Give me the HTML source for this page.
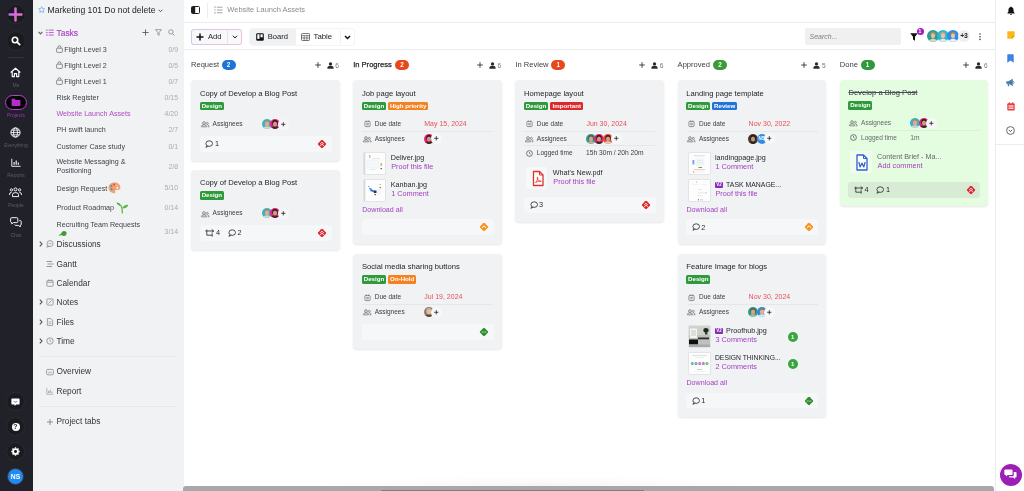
<!DOCTYPE html>
<html>
<head>
<meta charset="utf-8">
<title>Website Launch Assets</title>
<style>
*{box-sizing:border-box;margin:0;padding:0}
html,body{width:1024px;height:491px;overflow:hidden;background:#fff}
body{font-family:"Liberation Sans",sans-serif;color:#26282d;position:relative;-webkit-font-smoothing:antialiased}
.a{position:absolute}
.t{position:absolute;white-space:nowrap;line-height:10px;height:10px}
svg{position:absolute;overflow:visible}
/* nav */
#nav{left:0;top:0;width:33px;height:491px;background:#212229}
.nl{position:absolute;left:0;width:32px;text-align:center;font-size:5px;line-height:6px;color:#5a5c65}
.ring{position:absolute;border-radius:50%;border:1px solid #2a2b32;background:#1a1b21}
/* side */
#side{left:33px;top:0;width:151px;height:491px;background:#f1f2f4}
.si{font-size:7.15px;color:#42444a;left:56.5px}
.sc{font-size:6.9px;color:#a9abb0;right:846px;text-align:right}
.sh{font-size:8.3px;color:#33353a;left:56.5px}
/* top */
#top{left:184px;top:0;width:811px;height:23px;border-bottom:1px solid #ececee;background:#fff}
#bar{left:184px;top:23px;width:811px;height:27px;border-bottom:1px solid #ececee;background:#fff}
#rail{left:995px;top:0;width:29px;height:491px;border-left:1px solid #ececee;background:#fff}
/* columns */
.ch{font-size:7.55px;color:#3c3e44}
.bd{position:absolute;height:10px;border-radius:5px;color:#fff;font-size:6.3px;line-height:10px;text-align:center;font-weight:bold}
.card{position:absolute;width:148.7px;background:#f1f2f4;border-radius:4px;box-shadow:0 1px 2px rgba(0,0,0,.10)}
.ct{font-size:7.62px;color:#232429;left:8.8px}
.done .lb,.done .vv,.done .fnm{color:#65676d}
.done .ct{color:#34363b}
.tag{position:absolute;height:8.3px;border-radius:1.5px;color:#fff;font-size:6.15px;line-height:8.2px;font-weight:bold;text-align:center;top:21.8px;white-space:nowrap}
.g{background:#2f9a3c}.o{background:#f58220}.r{background:#dc2a2a}.b{background:#2372d9}
.lb{font-size:6.5px;color:#3a3c42;left:21.5px}
.dv{font-size:7px;color:#e8505b;left:71.1px}
.vv{font-size:6.7px;color:#3a3c42;left:70.7px}
.hr{position:absolute;left:9px;width:131px;height:1px;background:rgba(0,0,0,.045)}
.ft{position:absolute;left:8.5px;width:132px;height:15.9px;border-radius:3px;background:#f6f7f8}
.fn{font-size:7.3px;color:#26282d}
.fnm{font-size:7.2px;color:#26272c;left:38px}
.lk{font-size:7.3px;color:#a23fc0;left:38px}
.dl{font-size:7.1px;color:#a23fc0;left:9px}
.av{position:absolute;width:10px;height:10px;border-radius:50%;overflow:hidden}
.pl{position:absolute;width:11px;height:11px;border-radius:50%;background:#f7f7f9;color:#222;font-size:8px;line-height:10.5px;text-align:center;font-weight:bold}
.th{position:absolute;left:10px;width:23px;height:23px;background:#fff;border:1px solid #e3e4e7;border-radius:1px;overflow:hidden}
</style>
</head>
<body>
<div id="wrap" style="position:absolute;left:0;top:0;width:1024px;height:491px;will-change:transform">

<!-- ============ NAV ============ -->
<div id="nav" class="a">
  <div class="ring" style="left:5.5px;top:4px;width:20px;height:20px"></div>
  <svg style="left:9px;top:7.5px" width="13" height="13" viewBox="0 0 13 13"><defs><linearGradient id="pg" x1="0" y1="0" x2="1" y2="0"><stop offset="0" stop-color="#c46ae6"/><stop offset="1" stop-color="#ee6fc8"/></linearGradient></defs><path d="M6.5 0.6v11.8M0.6 6.5h11.8" stroke="url(#pg)" stroke-width="2.5" stroke-linecap="round" fill="none"/></svg>
  <div class="ring" style="left:5.5px;top:31px;width:20px;height:20px"></div>
  <svg style="left:10.5px;top:36px" width="10" height="10" viewBox="0 0 10 10"><circle cx="4" cy="4" r="2.7" stroke="#fff" stroke-width="1.6" fill="none"/><path d="M6.1 6.1L8.7 8.7" stroke="#fff" stroke-width="1.7" stroke-linecap="round"/></svg>
  <div class="a" style="left:8px;top:57px;width:16px;height:1px;background:#34353c"></div>
  <!-- home -->
  <svg style="left:10px;top:66.5px" width="11" height="11" viewBox="0 0 11 11"><path d="M1 5.2L5.5 1.2L10 5.2M2.2 4.6V9.6H4.4V6.6H6.6V9.6H8.8V4.6" stroke="#fff" stroke-width="1.15" fill="none" stroke-linejoin="round" stroke-linecap="round"/></svg>
  <div class="nl" style="top:82px">Me</div>
  <!-- projects -->
  <div class="a" style="left:4.5px;top:94.5px;width:22px;height:15px;border-radius:8px;border:1.6px solid #c23fd8;background:#050506"></div>
  <svg style="left:10.7px;top:97.5px" width="10" height="9" viewBox="0 0 10 9"><path d="M0.6 1.6q0-.8.8-.8H3.7l1 1.1H8.6q.8 0 .8.8V7.2q0 .8-.8.8H1.4q-.8 0-.8-.8z" fill="#b22fc9"/></svg>
  <div class="nl" style="top:112px;color:#a22fb8">Projects</div>
  <!-- globe -->
  <svg style="left:10px;top:126.5px" width="11" height="11" viewBox="0 0 11 11"><circle cx="5.5" cy="5.5" r="4.6" stroke="#fff" stroke-width="1" fill="none"/><ellipse cx="5.5" cy="5.5" rx="2" ry="4.6" stroke="#fff" stroke-width=".9" fill="none"/><path d="M1 5.5H10M1.8 3.2H9.2M1.8 7.8H9.2" stroke="#fff" stroke-width=".8"/></svg>
  <div class="nl" style="top:142px">Everything</div>
  <!-- reports -->
  <svg style="left:10.500px;top:157.500px" width="10" height="9" viewBox="0 0 10 9"><path d="M.8 .8V8.300H9.600" stroke="#fff" stroke-width=".9" fill="none"/><path d="M3.100 4V6.800M5.200 2.400V6.800M7.300 4.600V6.800" stroke="#fff" stroke-width="1.100"/></svg>
  <div class="nl" style="top:172px">Reports</div>
  <!-- people -->
  <svg style="left:9px;top:186.5px" width="13" height="11" viewBox="0 0 13 11"><circle cx="6.5" cy="2.4" r="1.5" stroke="#fff" stroke-width=".95" fill="none"/><circle cx="2.4" cy="2.9" r="1.15" stroke="#fff" stroke-width=".9" fill="none"/><circle cx="10.6" cy="2.9" r="1.15" stroke="#fff" stroke-width=".9" fill="none"/><path d="M3.5 9.6V7.6q0-2 3-2t3 2V9.6zM.6 8V7q0-1.5 2-1.6M12.4 8V7q0-1.5-2-1.6" stroke="#fff" stroke-width=".95" fill="none" stroke-linejoin="round"/></svg>
  <div class="nl" style="top:202px">People</div>
  <!-- chat -->
  <svg style="left:9.5px;top:217px" width="12" height="11" viewBox="0 0 12 11"><path d="M1.6 .7H6.8q1 0 1 1V4.6q0 1-1 1H3.4L1.8 7V5.6Q.6 5.5.6 4.6V1.7q0-1 1-1z" stroke="#fff" stroke-width=".95" fill="none" stroke-linejoin="round"/><path d="M9.3 3.6h.9q1 0 1 1V7.4q0 1-1 1V10L8.6 8.4H5.6q-.8 0-1-.8" stroke="#fff" stroke-width=".95" fill="none" stroke-linejoin="round"/></svg>
  <div class="nl" style="top:232px">Chat</div>
  <!-- bottom -->
  <div class="ring" style="left:6px;top:392px;width:19px;height:19px"></div>
  <svg style="left:11px;top:397.5px" width="9" height="9" viewBox="0 0 9 9"><path d="M1 .6H8q.6 0 .6.6V5.8q0 .6-.6.6H5.2L3.6 8V6.4H1q-.6 0-.6-.6V1.2q0-.6.6-.6z" fill="#fff"/><path d="M2.8 3.4q1.7 1.3 3.4 0" stroke="#1f2027" stroke-width=".6" fill="none"/></svg>
  <div class="ring" style="left:6px;top:417px;width:19px;height:19px"></div>
  <div class="a" style="left:11.5px;top:422.5px;width:8px;height:8px;border-radius:50%;background:#fff;color:#1f2027;font-size:7px;line-height:8.4px;text-align:center;font-weight:bold">?</div>
  <div class="ring" style="left:6px;top:442px;width:19px;height:19px"></div>
  <svg style="left:11px;top:447px" width="9" height="9" viewBox="0 0 9 9"><circle cx="4.5" cy="4.5" r="2.4" stroke="#fff" stroke-width="1.9" fill="none"/><path d="M4.5 .3V8.7M.3 4.5H8.7M1.5 1.5L7.5 7.5M7.5 1.5L1.5 7.5" stroke="#fff" stroke-width="1.3" stroke-dasharray="1.3 5.8"/><circle cx="4.5" cy="4.5" r="1.2" fill="#191a20"/></svg>
  <div class="a" style="left:7px;top:468px;width:17px;height:17px;border-radius:50%;background:#1e8af2;border:1px solid #33343c;color:#fff;font-size:6.800px;line-height:15px;text-align:center;font-weight:bold">NS</div>
</div>

<!-- ============ SIDEBAR ============ -->
<div id="side" class="a"></div>
<svg style="left:37.8px;top:6.2px" width="7.400" height="7.400" viewBox="0 0 9 9"><path d="M4.5 .8L5.6 3.2L8.2 3.5L6.3 5.3L6.8 7.9L4.5 6.6L2.2 7.9L2.7 5.3L.8 3.5L3.4 3.2Z" stroke="#7fb0ea" stroke-width="1.100" fill="none" stroke-linejoin="round"/></svg>
<div class="t" style="left:47.5px;top:5px;font-size:8.6px;color:#222328">Marketing 101 Do not delete</div>
<svg style="left:157.5px;top:8.5px" width="5" height="4" viewBox="0 0 5 4"><path d="M.7 .8L2.5 2.7L4.3 .8" stroke="#444" stroke-width=".9" fill="none"/></svg>
<svg style="left:38px;top:31px" width="5" height="4" viewBox="0 0 5 4"><path d="M.6 .8L2.5 2.900L4.400 .8" stroke="#606268" stroke-width="1.150" fill="none"/></svg>
<svg style="left:46.300px;top:29.300px" width="8" height="7.200" viewBox="0 0 9 8"><path d="M.3 1.2H1.7M.3 4H1.7M.3 6.8H1.7" stroke="#b24bc8" stroke-width="1.3"/><path d="M3 1.2H8.7M3 4H8.7M3 6.8H8.7" stroke="#b24bc8" stroke-width="1"/></svg>
<div class="t" style="left:56.600px;top:28px;font-size:8.400px;color:#b04ac6;-webkit-text-stroke:.2px #b04ac6">Tasks</div>
<svg style="left:142px;top:28.8px" width="7" height="7" viewBox="0 0 7 7"><path d="M3.5 .4V6.6M.4 3.5H6.6" stroke="#5a5c62" stroke-width=".9"/></svg>
<svg style="left:154.5px;top:28.8px" width="7" height="7" viewBox="0 0 7 7"><path d="M.5 .6H6.5L4.2 3.4V6.3L2.8 5.6V3.4Z" stroke="#8a8c92" stroke-width=".8" fill="none" stroke-linejoin="round"/></svg>
<svg style="left:167.5px;top:28.8px" width="7" height="7" viewBox="0 0 7 7"><circle cx="2.9" cy="2.9" r="2.2" stroke="#8a8c92" stroke-width=".85" fill="none"/><path d="M4.6 4.6L6.5 6.5" stroke="#8a8c92" stroke-width=".9"/></svg>
<svg style="left:56px;top:45.1px" width="7" height="8" viewBox="0 0 7 8"><rect x=".6" y="3.2" width="5.8" height="4.2" rx=".8" stroke="#6f7177" stroke-width=".8" fill="none"/><path d="M2 3.2V2.2q0-1.5 1.5-1.5T5 2.2V3.2" stroke="#6f7177" stroke-width=".8" fill="none"/></svg>
<div class="t si" style="left:64.3px;top:44.7px">Flight Level 3</div>
<div class="t sc" style="top:45.1px">0/9</div>
<svg style="left:56px;top:61.1px" width="7" height="8" viewBox="0 0 7 8"><rect x=".6" y="3.2" width="5.8" height="4.2" rx=".8" stroke="#6f7177" stroke-width=".8" fill="none"/><path d="M2 3.2V2.2q0-1.5 1.5-1.5T5 2.2V3.2" stroke="#6f7177" stroke-width=".8" fill="none"/></svg>
<div class="t si" style="left:64.3px;top:60.7px">Flight Level 2</div>
<div class="t sc" style="top:61.1px">0/5</div>
<svg style="left:56px;top:77.1px" width="7" height="8" viewBox="0 0 7 8"><rect x=".6" y="3.2" width="5.8" height="4.2" rx=".8" stroke="#6f7177" stroke-width=".8" fill="none"/><path d="M2 3.2V2.2q0-1.5 1.5-1.5T5 2.2V3.2" stroke="#6f7177" stroke-width=".8" fill="none"/></svg>
<div class="t si" style="left:64.3px;top:76.7px">Flight Level 1</div>
<div class="t sc" style="top:77.1px">0/7</div>
<div class="t si" style="top:93.0px">Risk Register</div>
<div class="t sc" style="top:93.4px">0/15</div>
<div class="t si" style="color:#b04ac6;top:109.0px">Website Launch Assets</div>
<div class="t sc" style="top:109.4px">4/20</div>
<div class="t si" style="top:125.0px">PH swift launch</div>
<div class="t sc" style="top:125.4px">2/7</div>
<div class="t si" style="top:142.0px">Customer Case study</div>
<div class="t sc" style="top:141.7px">0/1</div>
<div class="t si" style="top:157px">Website Messaging &amp;</div>
<div class="t si" style="top:166px">Positioning</div>
<div class="t sc" style="top:161.8px">2/8</div>
<div class="t si" style="top:183.7px">Design Request</div>
<div class="t sc" style="top:183.4px">5/10</div>
<svg style="left:107.5px;top:182px" width="13" height="12" viewBox="0 0 13 12"><path d="M6.3 .6C2.8.6.6 2.9.6 5.8c0 2.8 2.2 5.2 5.4 5.4 1.3.1 1.6-.8 1.2-1.6-.4-.9.1-1.7 1.2-1.7h1.8c1.4 0 2.2-1 2.2-2.3C12.400 2.600 9.800.600 6.300.600z" fill="#f0a079"/><circle cx="3.400" cy="4" r="1" fill="#3b8fe0"/><circle cx="6" cy="2.600" r="1" fill="#e8453c"/><circle cx="8.900" cy="3.400" r="1" fill="#f5c542"/><circle cx="3.600" cy="7.200" r="1" fill="#3aa84c"/><circle cx="9.400" cy="5.900" r=".9" fill="#fff"/></svg>
<div class="t si" style="top:202.5px">Product Roadmap</div>
<div class="t sc" style="top:202.900px">0/14</div>
<svg style="left:115.5px;top:200.5px" width="13" height="13" viewBox="0 0 13 13"><path d="M6.300 12.500C6.500 9 6.200 6.500 5 4.600" stroke="#6dbb45" stroke-width="1.300" fill="none"/><path d="M5.400 5C4.300 2.400 2.500 1.400.4 1.500 1.300 3.900 3 5.100 5.400 5z" fill="#4caf50"/><path d="M6.200 7.300C7.300 4.800 9.500 3.500 12.300 3.900 11.400 6.400 9.200 7.600 6.200 7.300z" fill="#55b848"/></svg>
<div class="t si" style="top:220.200px">Recruiting Team Requests</div>
<div class="t sc" style="top:226.500px">3/14</div>
<svg style="left:58px;top:229.500px" width="9" height="7" viewBox="0 0 9 7"><path d="M.3 5.200C2 5 3 4 3.600 2.600 4.400 1 6.400.4 7.800 1.600c1.200 1 1.200 2.900-.200 3.800C6.200 6.400 4.500 6 3.800 4.900 2.800 5.600 1.500 5.800.3 5.200z" fill="#4a9e3f"/><path d="M4 3.500L8 2.200" stroke="#2f7d2c" stroke-width=".5"/></svg>
<svg style="left:38.500px;top:241.4px" width="4" height="6" viewBox="0 0 4 6"><path d="M.8 .6L3 3L.8 5.400" stroke="#4a4c52" stroke-width="1.100" fill="none"/></svg>
<svg style="left:46px;top:240.4px" width="8" height="8" viewBox="0 0 8 8"><circle cx="4" cy="3.600" r="3" stroke="#8a8c92" stroke-width=".8" fill="none"/><path d="M1.700 5.500L.8 7.200L3 6.400" stroke="#8a8c92" stroke-width=".8" fill="none"/><path d="M2.600 3.600H5.400" stroke="#8a8c92" stroke-width=".7"/></svg>
<div class="t sh" style="top:239.2px">Discussions</div>
<svg style="left:46px;top:260.0px" width="8" height="8" viewBox="0 0 8 8"><path d="M.5 1.500H6M1.500 4H7.500M.5 6.500H6" stroke="#8a8c92" stroke-width=".9"/></svg>
<div class="t sh" style="top:258.8px">Gantt</div>
<svg style="left:46px;top:279.0px" width="8" height="8" viewBox="0 0 8 8"><rect x=".9" y="1.400" width="6.200" height="5.900" rx=".8" stroke="#8a8c92" stroke-width=".8" fill="none"/><path d="M.9 3.200H7.100M2.600 .5V2M5.400 .5V2" stroke="#8a8c92" stroke-width=".8"/></svg>
<div class="t sh" style="top:277.8px">Calendar</div>
<svg style="left:38.500px;top:299.3px" width="4" height="6" viewBox="0 0 4 6"><path d="M.8 .6L3 3L.8 5.400" stroke="#4a4c52" stroke-width="1.100" fill="none"/></svg>
<svg style="left:46px;top:298.3px" width="8" height="8" viewBox="0 0 8 8"><rect x=".9" y=".9" width="6.200" height="6.200" rx=".8" stroke="#8a8c92" stroke-width=".8" fill="none"/><path d="M2.500 5.500L5.600 2.400" stroke="#8a8c92" stroke-width=".9"/></svg>
<div class="t sh" style="top:297.1px">Notes</div>
<svg style="left:38.500px;top:318.7px" width="4" height="6" viewBox="0 0 4 6"><path d="M.8 .6L3 3L.8 5.400" stroke="#4a4c52" stroke-width="1.100" fill="none"/></svg>
<svg style="left:46px;top:317.7px" width="8" height="8" viewBox="0 0 8 8"><path d="M1.400 .6H5L6.600 2.200V7.400H1.400Z" stroke="#8a8c92" stroke-width=".8" fill="none" stroke-linejoin="round"/><path d="M2.600 3.800H5.400M2.600 5.400H5.400" stroke="#8a8c92" stroke-width=".6"/></svg>
<div class="t sh" style="top:316.5px">Files</div>
<svg style="left:38.500px;top:338.0px" width="4" height="6" viewBox="0 0 4 6"><path d="M.8 .6L3 3L.8 5.400" stroke="#4a4c52" stroke-width="1.100" fill="none"/></svg>
<svg style="left:46px;top:337.0px" width="8" height="8" viewBox="0 0 8 8"><circle cx="4" cy="4" r="3.200" stroke="#8a8c92" stroke-width=".8" fill="none"/><path d="M4 2.200V4.200L5.200 4.900" stroke="#8a8c92" stroke-width=".7" fill="none"/></svg>
<div class="t sh" style="top:335.8px">Time</div>
<svg style="left:46px;top:367.5px" width="8" height="8" viewBox="0 0 8 8"><rect x=".6" y="1.400" width="6.800" height="5.400" rx="1.200" stroke="#8a8c92" stroke-width=".8" fill="none"/><path d="M2 5.200q2-2.600 4 0" stroke="#8a8c92" stroke-width=".7" fill="none"/></svg>
<div class="t sh" style="top:366.3px">Overview</div>
<svg style="left:46px;top:387.0px" width="8" height="8" viewBox="0 0 8 8"><path d="M.8 .8V7.200H7.500" stroke="#9a9ca2" stroke-width=".7" fill="none"/><path d="M2.500 4V6M4.200 2.800V6M5.900 4.500V6" stroke="#9a9ca2" stroke-width=".9"/></svg>
<div class="t sh" style="top:385.8px">Report</div>
<svg style="left:46px;top:417.5px" width="8" height="8" viewBox="0 0 8 8"><path d="M4 1V7M1 4H7" stroke="#77797f" stroke-width=".8"/></svg>
<div class="t sh" style="top:416.3px">Project tabs</div>
<div class="a" style="left:39px;top:356px;width:138px;height:1px;background:#e7e8eb"></div>
<div class="a" style="left:39px;top:406px;width:138px;height:1px;background:#e7e8eb"></div>

<!-- ============ TOP ============ -->
<div id="top" class="a"></div>
<svg style="left:191px;top:6px" width="9" height="8" viewBox="0 0 9 8"><rect x=".5" y=".5" width="8" height="7" rx="1" stroke="#1d1e22" stroke-width="1" fill="none"/><rect x=".8" y=".8" width="3.400" height="6.400" fill="#1d1e22"/></svg>
<div class="a" style="left:206.500px;top:3px;width:1px;height:15px;background:#ececee"></div>
<svg style="left:214px;top:6px" width="9" height="8" viewBox="0 0 9 8"><path d="M.3 1.200H1.600M.3 4H1.600M.3 6.800H1.600" stroke="#9a9ca1" stroke-width="1.200"/><path d="M2.900 1.200H8.500M2.900 4H8.500M2.900 6.800H8.500" stroke="#9a9ca1" stroke-width=".9"/></svg>
<div class="t" style="left:227.300px;top:5px;font-size:7.500px;color:#8b8d92">Website Launch Assets</div>
<div id="bar" class="a"></div>
<div class="a" style="left:191px;top:28.500px;width:51px;height:16px;border-radius:3px;border:1px solid transparent;background:linear-gradient(#f8f8fb,#f8f8fb) padding-box,linear-gradient(90deg,#cfc9ee,#f2bfd6) border-box"></div>
<div class="a" style="left:226.500px;top:29.500px;width:1px;height:14px;background:#e6e6ea"></div>
<svg style="left:195.500px;top:33px" width="8" height="8" viewBox="0 0 8 8"><path d="M4 .5V7.500M.5 4H7.500" stroke="#111" stroke-width="1.500"/></svg>
<div class="t" style="left:208px;top:31.500px;font-size:7.600px;color:#222">Add</div>
<svg style="left:231.500px;top:34.500px" width="6" height="4" viewBox="0 0 6 4"><path d="M.8 .7L3 3L5.200 .7" stroke="#222" stroke-width="1" fill="none"/></svg>
<div class="a" style="left:250px;top:28.500px;width:104px;height:16px;border-radius:3px;background:#fff;box-shadow:0 0 0 1px #f4f4f6"></div>
<div class="a" style="left:250px;top:28.500px;width:46px;height:16px;border-radius:3px 0 0 3px;background:#f0f1f3"></div>
<svg style="left:256px;top:32.500px" width="8" height="8" viewBox="0 0 8 8"><rect x=".2" y=".2" width="7.600" height="7.600" rx="1.200" fill="#111"/><rect x="1.300" y="1.300" width="2.200" height="4.600" fill="#fff"/><rect x="4.500" y="1.300" width="2.200" height="3" fill="#fff"/></svg>
<div class="t" style="left:267.800px;top:31.500px;font-size:7.600px;color:#222">Board</div>
<svg style="left:301px;top:32.500px" width="9" height="8" viewBox="0 0 9 8"><rect x=".5" y=".5" width="8" height="7" rx=".8" stroke="#555" stroke-width=".8" fill="none"/><path d="M.5 2.600H8.500M.5 5H8.500M3.200 2.600V7.500M5.900 2.600V7.500" stroke="#555" stroke-width=".7"/></svg>
<div class="t" style="left:313.500px;top:31.500px;font-size:7.800px;color:#222">Table</div>
<div class="a" style="left:339.500px;top:29.500px;width:1px;height:14px;background:#f1f1f3"></div>
<svg style="left:344px;top:34.500px" width="7" height="5" viewBox="0 0 7 5"><path d="M1 .9L3.500 3.500L6 .9" stroke="#111" stroke-width="1.400" fill="none"/></svg>
<div class="a" style="left:804.500px;top:28px;width:96px;height:16.500px;border-radius:2px;background:#f0f0f1"></div>
<div class="t" style="left:809.500px;top:31.500px;font-size:7px;font-style:italic;color:#7d7f85">Search...</div>
<svg style="left:909.500px;top:32.500px" width="8" height="8" viewBox="0 0 8 8"><path d="M.2 .3H7.800L5 3.700V7.700L3 6.400V3.700Z" fill="#111"/></svg>
<div class="a" style="left:916.500px;top:28px;width:7px;height:7px;border-radius:50%;background:#a11fc0;color:#fff;font-size:5px;line-height:7px;text-align:center;font-weight:bold">1</div>
<svg style="left:927.0px;top:30.3px" width="12" height="12" viewBox="0 0 12 12"><defs><clipPath id="c15"><circle cx="6" cy="6" r="6"/></clipPath></defs><g clip-path="url(#c15)"><rect width="12" height="12" fill="#2b9e8e"/><ellipse cx="6" cy="13" rx="4.800" ry="4.200" fill="#d8d4cc"/><ellipse cx="6" cy="4.600" rx="2.700" ry="2.900" fill="#a58c70"/><ellipse cx="6" cy="5.800" rx="2" ry="2.600" fill="#e2c0a2"/></g></svg><svg style="left:937.3px;top:30.3px" width="12" height="12" viewBox="0 0 12 12"><defs><clipPath id="c16"><circle cx="6" cy="6" r="6"/></clipPath></defs><g clip-path="url(#c16)"><rect width="12" height="12" fill="#29b8d8"/><ellipse cx="6" cy="13" rx="4.800" ry="4.200" fill="#e9e4dc"/><ellipse cx="6" cy="4.600" rx="2.700" ry="2.900" fill="#bfa184"/><ellipse cx="6" cy="5.800" rx="2" ry="2.600" fill="#e8c5a8"/></g></svg><svg style="left:947.4px;top:30.3px" width="12" height="12" viewBox="0 0 12 12"><defs><clipPath id="c17"><circle cx="6" cy="6" r="6"/></clipPath></defs><g clip-path="url(#c17)"><rect width="12" height="12" fill="#2f8de6"/><ellipse cx="6" cy="13" rx="4.800" ry="4.200" fill="#eef0f3"/><ellipse cx="6" cy="4.600" rx="2.700" ry="2.900" fill="#9c846b"/><ellipse cx="6" cy="5.800" rx="2" ry="2.600" fill="#e7c7ad"/></g></svg>
<div class="a" style="left:958px;top:30.300px;width:12px;height:12px;border-radius:50%;background:#efeff1;color:#222;font-size:6.800px;line-height:12px;text-align:center;font-weight:bold">+3</div>
<svg style="left:979px;top:33px" width="2" height="8" viewBox="0 0 2 8"><circle cx="1" cy="1" r=".8" fill="#444"/><circle cx="1" cy="3.700" r=".8" fill="#444"/><circle cx="1" cy="6.400" r=".8" fill="#444"/></svg>
<div id="rail" class="a"></div>
<svg style="left:1006.500px;top:6px" width="8" height="9" viewBox="0 0 8 9"><path d="M4 .4q.5 0 .5.600Q6.600 1.600 6.600 4V5.800L7.600 7V7.400H.4V7L1.400 5.800V4Q1.400 1.600 3.500 1Q3.500.4 4 .4zM3 7.900H5Q5 8.800 4 8.800T3 7.900z" fill="#111"/></svg>
<svg style="left:1006.500px;top:30.500px" width="8" height="8" viewBox="0 0 8 8"><path d="M.8 .3H7.200q.5 0 .5.500V5L5 7.700H.8q-.5 0-.5-.5V.8q0-.5.500-.5z" fill="#fbb818"/><path d="M5 7.700V5.400q0-.4.400-.4H7.700z" fill="#e09a00"/></svg>
<svg style="left:1007px;top:54px" width="7" height="9" viewBox="0 0 7 9"><path d="M.3 .8q0-.5.500-.5H6.200q.5 0 .5.500V8.700L3.500 6.500L.3 8.700z" fill="#3f7fe8"/></svg>
<svg style="left:1006px;top:77.500px" width="9" height="9" viewBox="0 0 9 9"><path d="M.3 3.200H2.400L6.800 .8V8L2.400 5.800H.3z" fill="#4a7aa8"/><path d="M1.400 5.800L2 8.300H3.300L2.800 5.800" fill="#4a7aa8"/><path d="M7.400 3.200q1.200 1.200 0 2.400" stroke="#4a7aa8" stroke-width=".9" fill="none"/></svg>
<svg style="left:1006.500px;top:101.500px" width="8" height="9" viewBox="0 0 8 9"><rect x=".3" y="1.200" width="7.400" height="7.200" rx="1" fill="#ef3b3b"/><rect x="1.500" y="3.400" width="5" height="1.200" fill="#fff"/><rect x="1.500" y="5.600" width="5" height="1.200" fill="#fff"/><rect x="1.800" y=".2" width="1" height="1.800" fill="#ef3b3b"/><rect x="5.200" y=".2" width="1" height="1.800" fill="#ef3b3b"/></svg>
<svg style="left:1006px;top:125.500px" width="9" height="9" viewBox="0 0 9 9"><circle cx="4.500" cy="4.500" r="3.900" stroke="#444" stroke-width=".8" fill="none"/><path d="M2.800 3.900L4.500 5.600L6.200 3.900" stroke="#444" stroke-width=".9" fill="none"/></svg>
<div class="a" style="left:996px;top:143.500px;width:28px;height:1px;background:#ececee"></div>
<div class="a" style="left:999.500px;top:464px;width:22px;height:22px;border-radius:50%;background:#9b1fb5"></div>
<svg style="left:1004px;top:469px" width="13" height="12" viewBox="0 0 12 11"><path d="M1.200 .4H7q.9 0 .9.900V4.600q0 .9-.9.900H3.400L1.800 7V5.500H1.200q-.9 0-.9-.9V1.300q0-.9.900-.9z" fill="#fff"/><path d="M9 2.800h1.700q.9 0 .9.900V7q0 .9-.9.900H10.200V9.400L8.600 7.900H5.400q-.9 0-.9-.9V6.600H7.800q1.200 0 1.200-1.200z" fill="#fff"/></svg>

<!-- ============ BOARD ============ -->
<div id="board">
<div class="t ch" style="left:191.0px;top:60.4px;">Request</div>
<div class="bd" style="left:221.6px;top:60px;width:14px;background:#1f72d8">2</div>
<svg style="left:314.5px;top:62px" width="6" height="6" viewBox="0 0 6 6"><path d="M3 .2V5.800M.2 3H5.800" stroke="#333" stroke-width=".9"/></svg>
<svg style="left:326.5px;top:61.500px" width="7" height="7" viewBox="0 0 7 7"><circle cx="3.500" cy="1.900" r="1.700" fill="#2a2b30"/><path d="M.4 6.800V5.800q0-2 3.100-2t3.100 2V6.800z" fill="#2a2b30"/></svg>
<div class="t t" style="left:335.3px;top:60.6px;font-size:6.6px;color:#74767c">6</div>
<div class="t ch" style="left:353.2px;top:60.4px;color:#26272c;-webkit-text-stroke:.25px #26272c;">In Progress</div>
<div class="bd" style="left:394.9px;top:60px;width:14px;background:#e8481c">2</div>
<svg style="left:476.7px;top:62px" width="6" height="6" viewBox="0 0 6 6"><path d="M3 .2V5.800M.2 3H5.800" stroke="#333" stroke-width=".9"/></svg>
<svg style="left:488.7px;top:61.500px" width="7" height="7" viewBox="0 0 7 7"><circle cx="3.500" cy="1.900" r="1.700" fill="#2a2b30"/><path d="M.4 6.800V5.800q0-2 3.100-2t3.100 2V6.800z" fill="#2a2b30"/></svg>
<div class="t t" style="left:497.5px;top:60.6px;font-size:6.6px;color:#74767c">6</div>
<div class="t ch" style="left:515.4px;top:60.4px;">In Review</div>
<div class="bd" style="left:551.2px;top:60px;width:14px;background:#e8481c">1</div>
<svg style="left:638.9px;top:62px" width="6" height="6" viewBox="0 0 6 6"><path d="M3 .2V5.800M.2 3H5.800" stroke="#333" stroke-width=".9"/></svg>
<svg style="left:650.9px;top:61.500px" width="7" height="7" viewBox="0 0 7 7"><circle cx="3.500" cy="1.900" r="1.700" fill="#2a2b30"/><path d="M.4 6.800V5.800q0-2 3.100-2t3.100 2V6.800z" fill="#2a2b30"/></svg>
<div class="t t" style="left:659.7px;top:60.6px;font-size:6.6px;color:#74767c">6</div>
<div class="t ch" style="left:677.6px;top:60.4px;">Approved</div>
<div class="bd" style="left:713.0px;top:60px;width:14px;background:#3a9a35">2</div>
<svg style="left:801.1px;top:62px" width="6" height="6" viewBox="0 0 6 6"><path d="M3 .2V5.800M.2 3H5.800" stroke="#333" stroke-width=".9"/></svg>
<svg style="left:813.1px;top:61.500px" width="7" height="7" viewBox="0 0 7 7"><circle cx="3.500" cy="1.900" r="1.700" fill="#2a2b30"/><path d="M.4 6.800V5.800q0-2 3.100-2t3.100 2V6.800z" fill="#2a2b30"/></svg>
<div class="t t" style="left:821.9px;top:60.6px;font-size:6.6px;color:#74767c">5</div>
<div class="t ch" style="left:839.8px;top:60.4px;">Done</div>
<div class="bd" style="left:860.5px;top:60px;width:14px;background:#2f9a3c">1</div>
<svg style="left:963.3px;top:62px" width="6" height="6" viewBox="0 0 6 6"><path d="M3 .2V5.800M.2 3H5.800" stroke="#333" stroke-width=".9"/></svg>
<svg style="left:975.3px;top:61.500px" width="7" height="7" viewBox="0 0 7 7"><circle cx="3.500" cy="1.900" r="1.700" fill="#2a2b30"/><path d="M.4 6.800V5.800q0-2 3.100-2t3.100 2V6.800z" fill="#2a2b30"/></svg>
<div class="t t" style="left:984.1px;top:60.6px;font-size:6.6px;color:#74767c">6</div>
<div class="card" style="left:191.1px;top:80.3px;height:80.3px;">
<div class="t ct" style="top:8.7px;">Copy of Develop a Blog Post</div>
<div class="tag g" style="left:8.7px;width:24.2px">Design</div>
<svg style="left:9.6px;top:41.1px" width="8.6" height="6.4" viewBox="0 0 9.500 7"><circle cx="3.300" cy="2.200" r="1.500" stroke="#5f6167" stroke-width=".75" fill="none"/><path d="M.5 6.400V5.800q0-1.600 2.800-1.600t2.800 1.600V6.400z" stroke="#5f6167" stroke-width=".75" fill="none" stroke-linejoin="round"/><circle cx="7" cy="2.600" r="1.100" stroke="#5f6167" stroke-width=".7" fill="none"/><path d="M7.200 4.400q1.700.2 1.700 1.500V6.400H7.400" stroke="#5f6167" stroke-width=".7" fill="none"/></svg>
<div class="t lb" style="top:38.8px;">Assignees</div>
<svg style="left:70.6px;top:38.8px" width="10" height="10" viewBox="0 0 12 12"><defs><clipPath id="c1"><circle cx="6" cy="6" r="6"/></clipPath></defs><g clip-path="url(#c1)"><rect width="12" height="12" fill="#29b8d8"/><ellipse cx="6" cy="13.200" rx="5.600" ry="4.600" fill="#d9d2c8"/><ellipse cx="6" cy="4.700" rx="3.300" ry="3.500" fill="#a88a6e"/><ellipse cx="6" cy="6" rx="2.500" ry="3.100" fill="#d9b092"/></g></svg>
<svg style="left:79.2px;top:38.8px" width="10" height="10" viewBox="0 0 12 12"><defs><clipPath id="c2"><circle cx="6" cy="6" r="6"/></clipPath></defs><g clip-path="url(#c2)"><rect width="12" height="12" fill="#e8207c"/><ellipse cx="6" cy="13.200" rx="5.600" ry="4.600" fill="#3a2a2a"/><ellipse cx="6" cy="4.700" rx="3.300" ry="3.500" fill="#2a1815"/><ellipse cx="6" cy="6" rx="2.500" ry="3.100" fill="#cf9c7c"/></g></svg>
<div class="a" style="left:86.7px;top:38.3px;width:11px;height:11px;border-radius:50%;background:#f7f7f9"></div><svg style="left:89.9px;top:41.5px" width="4.600" height="4.600" viewBox="0 0 4.600 4.600"><path d="M2.300 .2V4.400M.2 2.300H4.400" stroke="#2a2b30" stroke-width=".85"/></svg>
<div class="ft" style="top:55.6px;background:#f6f7f8"></div>
<svg style="left:14.3px;top:59.6px" width="8" height="8" viewBox="0 0 8 8"><ellipse cx="4.200" cy="3.600" rx="3.300" ry="2.800" stroke="#2d2f34" stroke-width=".85" fill="none"/><path d="M1.800 5.600L.9 7.300L3.200 6.300" stroke="#2d2f34" stroke-width=".8" fill="#f6f7f8" stroke-linejoin="round"/></svg><div class="t fn" style="left:23.8px;top:58.8px;">1</div>
<svg style="left:126.2px;top:58.6px" width="10" height="10" viewBox="0 0 10 10"><rect x="1.700" y="1.700" width="6.600" height="6.600" rx="1.200" transform="rotate(45 5 5)" fill="#e0262d"/><path d="M3.200 4.900L5 3.300L6.800 4.900M3.200 6.800L5 5.200L6.800 6.800" stroke="#fff" stroke-width=".9" fill="none"/></svg>
</div>
<div class="card" style="left:191.1px;top:169.5px;height:80.3px;">
<div class="t ct" style="top:8.7px;">Copy of Develop a Blog Post</div>
<div class="tag g" style="left:8.7px;width:24.2px">Design</div>
<svg style="left:9.6px;top:41.1px" width="8.6" height="6.4" viewBox="0 0 9.500 7"><circle cx="3.300" cy="2.200" r="1.500" stroke="#5f6167" stroke-width=".75" fill="none"/><path d="M.5 6.400V5.800q0-1.600 2.800-1.600t2.800 1.600V6.400z" stroke="#5f6167" stroke-width=".75" fill="none" stroke-linejoin="round"/><circle cx="7" cy="2.600" r="1.100" stroke="#5f6167" stroke-width=".7" fill="none"/><path d="M7.200 4.400q1.700.2 1.700 1.500V6.400H7.400" stroke="#5f6167" stroke-width=".7" fill="none"/></svg>
<div class="t lb" style="top:38.8px;">Assignees</div>
<svg style="left:70.6px;top:38.8px" width="10" height="10" viewBox="0 0 12 12"><defs><clipPath id="c3"><circle cx="6" cy="6" r="6"/></clipPath></defs><g clip-path="url(#c3)"><rect width="12" height="12" fill="#29b8d8"/><ellipse cx="6" cy="13.200" rx="5.600" ry="4.600" fill="#d9d2c8"/><ellipse cx="6" cy="4.700" rx="3.300" ry="3.500" fill="#a88a6e"/><ellipse cx="6" cy="6" rx="2.500" ry="3.100" fill="#d9b092"/></g></svg>
<svg style="left:79.2px;top:38.8px" width="10" height="10" viewBox="0 0 12 12"><defs><clipPath id="c4"><circle cx="6" cy="6" r="6"/></clipPath></defs><g clip-path="url(#c4)"><rect width="12" height="12" fill="#e8207c"/><ellipse cx="6" cy="13.200" rx="5.600" ry="4.600" fill="#3a2a2a"/><ellipse cx="6" cy="4.700" rx="3.300" ry="3.500" fill="#2a1815"/><ellipse cx="6" cy="6" rx="2.500" ry="3.100" fill="#cf9c7c"/></g></svg>
<div class="a" style="left:86.7px;top:38.3px;width:11px;height:11px;border-radius:50%;background:#f7f7f9"></div><svg style="left:89.9px;top:41.5px" width="4.600" height="4.600" viewBox="0 0 4.600 4.600"><path d="M2.300 .2V4.400M.2 2.300H4.400" stroke="#2a2b30" stroke-width=".85"/></svg>
<div class="ft" style="top:55.6px;background:#f6f7f8"></div>
<svg style="left:14.3px;top:59.6px" width="9" height="8" viewBox="0 0 9 8"><path d="M.3 2H8.700M6.700 .5L8.700 2L6.700 3.500M1.800 .6V6.200H7.200M7.200 4.400V7.600" stroke="#2d2f34" stroke-width=".85" fill="none"/></svg><div class="t fn" style="left:24.8px;top:58.8px;">4</div>
<svg style="left:36.8px;top:59.6px" width="8" height="8" viewBox="0 0 8 8"><ellipse cx="4.200" cy="3.600" rx="3.300" ry="2.800" stroke="#2d2f34" stroke-width=".85" fill="none"/><path d="M1.800 5.600L.9 7.300L3.200 6.300" stroke="#2d2f34" stroke-width=".8" fill="#f6f7f8" stroke-linejoin="round"/></svg><div class="t fn" style="left:46.3px;top:58.8px;">2</div>
<svg style="left:126.2px;top:58.6px" width="10" height="10" viewBox="0 0 10 10"><rect x="1.700" y="1.700" width="6.600" height="6.600" rx="1.200" transform="rotate(45 5 5)" fill="#e0262d"/><path d="M3.200 4.900L5 3.300L6.800 4.900M3.200 6.800L5 5.200L6.800 6.800" stroke="#fff" stroke-width=".9" fill="none"/></svg>
</div>
<div class="card" style="left:353.2px;top:80.3px;height:163.8px;">
<div class="t ct" style="top:8.7px;">Job page layout</div>
<div class="tag g" style="left:8.7px;width:24.2px">Design</div>
<div class="tag o" style="left:34.9px;width:40.2px">High priority</div>
<svg style="left:10.8px;top:40.0px" width="7" height="7" viewBox="0 0 7 7"><rect x=".9" y="1.400" width="5.200" height="5.200" rx=".8" stroke="#6f7177" stroke-width=".75" fill="none"/><path d="M2.300 .5V2M4.700 .5V2M2.200 3.400H4.800M2.200 4.800H4.800" stroke="#6f7177" stroke-width=".7"/></svg>
<div class="t lb" style="top:38.8px;">Due date</div>
<div class="t dv" style="top:38.8px;">May 15, 2024</div>
<div class="hr" style="top:50.3px"></div>
<svg style="left:9.6px;top:55.8px" width="8.6" height="6.4" viewBox="0 0 9.500 7"><circle cx="3.300" cy="2.200" r="1.500" stroke="#5f6167" stroke-width=".75" fill="none"/><path d="M.5 6.400V5.800q0-1.600 2.800-1.600t2.800 1.600V6.400z" stroke="#5f6167" stroke-width=".75" fill="none" stroke-linejoin="round"/><circle cx="7" cy="2.600" r="1.100" stroke="#5f6167" stroke-width=".7" fill="none"/><path d="M7.200 4.400q1.700.2 1.700 1.500V6.400H7.400" stroke="#5f6167" stroke-width=".7" fill="none"/></svg>
<div class="t lb" style="top:53.5px;">Assignees</div>
<svg style="left:70.6px;top:53.5px" width="10" height="10" viewBox="0 0 12 12"><defs><clipPath id="c5"><circle cx="6" cy="6" r="6"/></clipPath></defs><g clip-path="url(#c5)"><rect width="12" height="12" fill="#e8207c"/><ellipse cx="6" cy="13.200" rx="5.600" ry="4.600" fill="#3a2a2a"/><ellipse cx="6" cy="4.700" rx="3.300" ry="3.500" fill="#2a1815"/><ellipse cx="6" cy="6" rx="2.500" ry="3.100" fill="#cf9c7c"/></g></svg>
<div class="a" style="left:78.1px;top:53.0px;width:11px;height:11px;border-radius:50%;background:#f7f7f9"></div><svg style="left:81.3px;top:56.2px" width="4.600" height="4.600" viewBox="0 0 4.600 4.600"><path d="M2.300 .2V4.400M.2 2.300H4.400" stroke="#2a2b30" stroke-width=".85"/></svg>
<div class="th" style="top:71.7px;"><svg style="left:0;top:0" width="21" height="21" viewBox="0 0 21 21"><rect width="21" height="21" fill="#fdfdfd"/><rect x="0" y="0" width="1.300" height="21" fill="#d3d9d4"/><rect x="5" y="2" width="1.500" height="1" fill="#e7b84a"/><rect x="5" y="3.500" width="1.500" height="1" fill="#8a8e96"/><rect x="8" y="5" width="8" height="1.200" fill="#e6e9ef"/><rect x="3" y="7" width="12" height="8" fill="#f6f7f9" stroke="#e9ebef" stroke-width=".4"/><rect x="16.500" y="10" width="1.500" height="1" fill="#e7b84a"/><rect x="16.500" y="11.500" width="1.500" height="1" fill="#6b6f77"/><rect x="16.500" y="15" width="1.500" height="1.200" fill="#5d6168"/><rect x="5" y="16.500" width="7" height=".5" fill="#bfe3d0"/></svg></div>
<div class="t fnm" style="left:37.5px;top:72.8px;">Deliver.jpg</div>
<div class="t lk" style="top:81.8px;">Proof this file</div>
<div class="th" style="top:98.7px;"><svg style="left:0;top:0" width="21" height="21" viewBox="0 0 21 21"><rect width="21" height="21" fill="#fdfdfd"/><rect x="0" y="0" width="1.300" height="21" fill="#d3d9d4"/><rect x="4" y="6" width="1.500" height="1" fill="#7ea6e8"/><rect x="5" y="8" width="2.500" height="1.500" fill="#4a7fe0" transform="rotate(25 6 9)"/><rect x="6.500" y="9.500" width="4" height="2" fill="#3f78d8" transform="rotate(25 8 10)"/><rect x="10" y="10.500" width="2.500" height="2.500" fill="#2a3246"/><rect x="15.500" y="4" width="1.500" height="1" fill="#e7b84a"/><rect x="15.500" y="7" width="1.500" height="1.200" fill="#7a7e86"/><rect x="10.500" y="14" width="1.500" height="1.200" fill="#555960"/><rect x="13" y="9" width="4" height="6" fill="#f3f5f8"/></svg></div>
<div class="t fnm" style="left:37.5px;top:99.8px;">Kanban.jpg</div>
<div class="t lk" style="top:108.8px;">1 Comment</div>
<div class="t dl" style="top:124.5px;">Download all</div>
<div class="ft" style="top:139.1px;background:#f6f7f8"></div>
<svg style="left:126.2px;top:142.1px" width="10" height="10" viewBox="0 0 10 10"><rect x="1.700" y="1.700" width="6.600" height="6.600" rx="1.200" transform="rotate(45 5 5)" fill="#f7941d"/><path d="M3 5.800L5 3.900L7 5.800" stroke="#fff" stroke-width="1" fill="none"/></svg>
</div>
<div class="card" style="left:353.2px;top:253.5px;height:95.0px;">
<div class="t ct" style="top:8.7px;">Social media sharing buttons</div>
<div class="tag g" style="left:8.7px;width:24.2px">Design</div>
<div class="tag o" style="left:34.9px;width:28.3px">On-Hold</div>
<svg style="left:10.8px;top:40.0px" width="7" height="7" viewBox="0 0 7 7"><rect x=".9" y="1.400" width="5.200" height="5.200" rx=".8" stroke="#6f7177" stroke-width=".75" fill="none"/><path d="M2.300 .5V2M4.700 .5V2M2.200 3.400H4.800M2.200 4.800H4.800" stroke="#6f7177" stroke-width=".7"/></svg>
<div class="t lb" style="top:38.8px;">Due date</div>
<div class="t dv" style="top:38.8px;">Jul 19, 2024</div>
<div class="hr" style="top:50.3px"></div>
<svg style="left:9.6px;top:55.8px" width="8.6" height="6.4" viewBox="0 0 9.500 7"><circle cx="3.300" cy="2.200" r="1.500" stroke="#5f6167" stroke-width=".75" fill="none"/><path d="M.5 6.400V5.800q0-1.600 2.800-1.600t2.800 1.600V6.400z" stroke="#5f6167" stroke-width=".75" fill="none" stroke-linejoin="round"/><circle cx="7" cy="2.600" r="1.100" stroke="#5f6167" stroke-width=".7" fill="none"/><path d="M7.200 4.400q1.700.2 1.700 1.500V6.400H7.400" stroke="#5f6167" stroke-width=".7" fill="none"/></svg>
<div class="t lb" style="top:53.5px;">Assignees</div>
<svg style="left:70.6px;top:53.5px" width="10" height="10" viewBox="0 0 12 12"><defs><clipPath id="c6"><circle cx="6" cy="6" r="6"/></clipPath></defs><g clip-path="url(#c6)"><rect width="12" height="12" fill="#8d7f76"/><ellipse cx="6" cy="13.200" rx="5.600" ry="4.600" fill="#5a4a44"/><ellipse cx="6" cy="4.700" rx="3.300" ry="3.500" fill="#d2b184"/><ellipse cx="6" cy="6" rx="2.500" ry="3.100" fill="#e4c0a2"/></g></svg>
<div class="a" style="left:78.1px;top:53.0px;width:11px;height:11px;border-radius:50%;background:#f7f7f9"></div><svg style="left:81.3px;top:56.2px" width="4.600" height="4.600" viewBox="0 0 4.600 4.600"><path d="M2.300 .2V4.400M.2 2.300H4.400" stroke="#2a2b30" stroke-width=".85"/></svg>
<div class="ft" style="top:70.3px;background:#f6f7f8"></div>
<svg style="left:126.2px;top:73.3px" width="10" height="10" viewBox="0 0 10 10"><rect x="1.700" y="1.700" width="6.600" height="6.600" rx="1.200" transform="rotate(45 5 5)" fill="#2e8b2e"/><circle cx="3.200" cy="5" r=".6" fill="#fff"/><circle cx="5" cy="5" r=".6" fill="#fff"/><circle cx="6.800" cy="5" r=".6" fill="#fff"/></svg>
</div>
<div class="card" style="left:515.3px;top:80.3px;height:141.7px;">
<div class="t ct" style="top:8.7px;">Homepage layout</div>
<div class="tag g" style="left:8.7px;width:24.2px">Design</div>
<div class="tag r" style="left:34.9px;width:33.2px">Important</div>
<svg style="left:10.8px;top:40.0px" width="7" height="7" viewBox="0 0 7 7"><rect x=".9" y="1.400" width="5.200" height="5.200" rx=".8" stroke="#6f7177" stroke-width=".75" fill="none"/><path d="M2.300 .5V2M4.700 .5V2M2.200 3.400H4.800M2.200 4.800H4.800" stroke="#6f7177" stroke-width=".7"/></svg>
<div class="t lb" style="top:38.8px;">Due date</div>
<div class="t dv" style="top:38.8px;">Jun 30, 2024</div>
<div class="hr" style="top:50.3px"></div>
<svg style="left:9.6px;top:55.8px" width="8.6" height="6.4" viewBox="0 0 9.500 7"><circle cx="3.300" cy="2.200" r="1.500" stroke="#5f6167" stroke-width=".75" fill="none"/><path d="M.5 6.400V5.800q0-1.600 2.800-1.600t2.800 1.600V6.400z" stroke="#5f6167" stroke-width=".75" fill="none" stroke-linejoin="round"/><circle cx="7" cy="2.600" r="1.100" stroke="#5f6167" stroke-width=".7" fill="none"/><path d="M7.200 4.400q1.700.2 1.700 1.500V6.400H7.400" stroke="#5f6167" stroke-width=".7" fill="none"/></svg>
<div class="t lb" style="top:53.5px;">Assignees</div>
<svg style="left:70.6px;top:53.5px" width="10" height="10" viewBox="0 0 12 12"><defs><clipPath id="c7"><circle cx="6" cy="6" r="6"/></clipPath></defs><g clip-path="url(#c7)"><rect width="12" height="12" fill="#23a08a"/><ellipse cx="6" cy="13.200" rx="5.600" ry="4.600" fill="#b9b2a6"/><ellipse cx="6" cy="4.700" rx="3.300" ry="3.500" fill="#6b5644"/><ellipse cx="6" cy="6" rx="2.500" ry="3.100" fill="#cfa98a"/></g></svg>
<svg style="left:79.2px;top:53.5px" width="10" height="10" viewBox="0 0 12 12"><defs><clipPath id="c8"><circle cx="6" cy="6" r="6"/></clipPath></defs><g clip-path="url(#c8)"><rect width="12" height="12" fill="#e8207c"/><ellipse cx="6" cy="13.200" rx="5.600" ry="4.600" fill="#3a2a2a"/><ellipse cx="6" cy="4.700" rx="3.300" ry="3.500" fill="#2a1815"/><ellipse cx="6" cy="6" rx="2.500" ry="3.100" fill="#cf9c7c"/></g></svg>
<svg style="left:87.8px;top:53.5px" width="10" height="10" viewBox="0 0 12 12"><defs><clipPath id="c9"><circle cx="6" cy="6" r="6"/></clipPath></defs><g clip-path="url(#c9)"><rect width="12" height="12" fill="#ee4a2c"/><ellipse cx="6" cy="13.200" rx="5.600" ry="4.600" fill="#d8cfc8"/><ellipse cx="6" cy="4.700" rx="3.300" ry="3.500" fill="#33201a"/><ellipse cx="6" cy="6" rx="2.500" ry="3.100" fill="#cf9f80"/></g></svg>
<div class="a" style="left:95.3px;top:53.0px;width:11px;height:11px;border-radius:50%;background:#f7f7f9"></div><svg style="left:98.5px;top:56.2px" width="4.600" height="4.600" viewBox="0 0 4.600 4.600"><path d="M2.300 .2V4.400M.2 2.300H4.400" stroke="#2a2b30" stroke-width=".85"/></svg>
<div class="hr" style="top:65.0px"></div>
<svg style="left:10.8px;top:69.4px" width="7" height="7" viewBox="0 0 7 7"><circle cx="3.500" cy="3.500" r="2.900" stroke="#55575d" stroke-width=".8" fill="none"/><path d="M3.500 1.900V3.600L4.600 4.200" stroke="#55575d" stroke-width=".7" fill="none"/></svg>
<div class="t lb" style="top:68.2px;">Logged time</div>
<div class="t vv" style="top:68.2px;">15h 30m / 20h 20m</div>
<div class="th" style="top:86.4px;border-color:transparent;background:rgba(255,255,255,.45);left:10.5px;width:21.5px;height:22.3px;"><svg style="left:0;top:0" width="21" height="21" viewBox="0 0 21 21"><path d="M6.500 3.500H12.500L16 7V17.500H6.500Z" stroke="#e0312f" stroke-width="1.300" fill="#fff" stroke-linejoin="round"/><path d="M12.500 3.500V7H16" stroke="#e0312f" stroke-width="1" fill="none"/><path d="M8.500 14.500C10 13 11 11 10.800 9.500 10.600 8.800 10 9 10.100 9.800 10.300 11.500 12 13.300 13.800 13.600 14.600 13.700 14.400 12.800 13.500 12.900 11.800 13 9.800 13.800 8.500 14.500z" stroke="#e0312f" stroke-width=".8" fill="none"/></svg></div>
<div class="t fnm" style="left:37.5px;top:87.5px;">What's New.pdf</div>
<div class="t lk" style="top:96.5px;">Proof this file</div>
<div class="ft" style="top:117.0px;background:#f6f7f8"></div>
<svg style="left:14.3px;top:121.0px" width="8" height="8" viewBox="0 0 8 8"><ellipse cx="4.200" cy="3.600" rx="3.300" ry="2.800" stroke="#2d2f34" stroke-width=".85" fill="none"/><path d="M1.800 5.600L.9 7.300L3.200 6.300" stroke="#2d2f34" stroke-width=".8" fill="#f6f7f8" stroke-linejoin="round"/></svg><div class="t fn" style="left:23.8px;top:120.2px;">3</div>
<svg style="left:126.2px;top:120.0px" width="10" height="10" viewBox="0 0 10 10"><rect x="1.700" y="1.700" width="6.600" height="6.600" rx="1.200" transform="rotate(45 5 5)" fill="#e0262d"/><path d="M3.200 4.900L5 3.300L6.800 4.900M3.200 6.800L5 5.200L6.800 6.800" stroke="#fff" stroke-width=".9" fill="none"/></svg>
</div>
<div class="card" style="left:677.5px;top:80.3px;height:163.8px;">
<div class="t ct" style="top:8.7px;">Landing page template</div>
<div class="tag g" style="left:8.7px;width:24.2px">Design</div>
<div class="tag b" style="left:34.9px;width:24.5px">Review</div>
<svg style="left:10.8px;top:40.0px" width="7" height="7" viewBox="0 0 7 7"><rect x=".9" y="1.400" width="5.200" height="5.200" rx=".8" stroke="#6f7177" stroke-width=".75" fill="none"/><path d="M2.300 .5V2M4.700 .5V2M2.200 3.400H4.800M2.200 4.800H4.800" stroke="#6f7177" stroke-width=".7"/></svg>
<div class="t lb" style="top:38.8px;">Due date</div>
<div class="t dv" style="top:38.8px;">Nov 30, 2022</div>
<div class="hr" style="top:50.3px"></div>
<svg style="left:9.6px;top:55.8px" width="8.6" height="6.4" viewBox="0 0 9.500 7"><circle cx="3.300" cy="2.200" r="1.500" stroke="#5f6167" stroke-width=".75" fill="none"/><path d="M.5 6.400V5.800q0-1.600 2.800-1.600t2.800 1.600V6.400z" stroke="#5f6167" stroke-width=".75" fill="none" stroke-linejoin="round"/><circle cx="7" cy="2.600" r="1.100" stroke="#5f6167" stroke-width=".7" fill="none"/><path d="M7.200 4.400q1.700.2 1.700 1.500V6.400H7.400" stroke="#5f6167" stroke-width=".7" fill="none"/></svg>
<div class="t lb" style="top:53.5px;">Assignees</div>
<svg style="left:70.6px;top:53.5px" width="10" height="10" viewBox="0 0 12 12"><defs><clipPath id="c10"><circle cx="6" cy="6" r="6"/></clipPath></defs><g clip-path="url(#c10)"><rect width="12" height="12" fill="#4a362c"/><ellipse cx="6" cy="13.200" rx="5.600" ry="4.600" fill="#2d2522"/><ellipse cx="6" cy="4.700" rx="3.300" ry="3.500" fill="#241713"/><ellipse cx="6" cy="6" rx="2.500" ry="3.100" fill="#c4967a"/></g></svg>
<div class="a" style="left:79.2px;top:53.5px;width:10px;height:10px;border-radius:50%;background:#2f8de6;color:#fff;font-size:4.5px;line-height:10px;text-align:center;font-weight:bold">NS</div>
<div class="a" style="left:86.7px;top:53.0px;width:11px;height:11px;border-radius:50%;background:#f7f7f9"></div><svg style="left:89.9px;top:56.2px" width="4.600" height="4.600" viewBox="0 0 4.600 4.600"><path d="M2.300 .2V4.400M.2 2.300H4.400" stroke="#2a2b30" stroke-width=".85"/></svg>
<div class="th" style="top:71.7px;"><svg style="left:0;top:0" width="21" height="21" viewBox="0 0 21 21"><rect width="21" height="21" fill="#fdfdfd"/><rect x="5" y="2.500" width="11" height=".7" fill="#c9cdd3"/><rect x="3.500" y="7" width="1.800" height="4.500" fill="#6fa0e6"/><rect x="6.500" y="5" width="9" height="8" fill="#f3f5f8"/><rect x="8" y="7" width="6" height=".5" fill="#dde0e5"/><rect x="8" y="9" width="6" height=".5" fill="#dde0e5"/><rect x="9.500" y="14" width="3.500" height="1" fill="#3fae7a"/><rect x="5" y="16.500" width="11" height=".6" fill="#e9a070"/><rect x="4" y="18.500" width="1.200" height="1" fill="#e06666"/><rect x="6" y="18.700" width="9" height=".5" fill="#e3e5e9"/></svg></div>
<div class="t fnm" style="left:37.5px;top:72.8px;">landingpage.jpg</div>
<div class="t lk" style="top:81.8px;">1 Comment</div>
<div class="th" style="top:98.7px;"><svg style="left:0;top:0" width="21" height="21" viewBox="0 0 21 21"><rect width="21" height="21" fill="#fdfdfd"/><rect x="7" y="1.500" width="1" height="1.200" fill="#b9bdc4"/><rect x="4" y="4.500" width="5" height=".5" fill="#e1e4e8"/><rect x="12" y="4.500" width="5" height=".5" fill="#e1e4e8"/><rect x="9" y="9" width="4" height=".6" fill="#d9dce1"/><rect x="9" y="12" width="7" height="1.500" fill="#eef0f3"/><rect x="16.500" y="12" width="1" height="1.500" fill="#b9bdc4"/><rect x="8" y="15.500" width="5" height=".6" fill="#d9dce1"/><rect x="9" y="19" width="1" height="1.500" fill="#8a8e96"/><rect x="11" y="19" width="3" height="1.500" fill="#d9dce1"/></svg></div>
<div class="a" style="left:37.5px;top:101.3px;width:8px;height:6.500px;border-radius:1px;background:#8a2bb5;color:#fff;font-size:4.500px;line-height:6.500px;text-align:center;font-weight:bold">V2</div>
<div class="t fnm" style="left:48.6px;top:99.8px;font-size:6.9px;">TASK MANAGE...</div>
<div class="t lk" style="top:108.8px;">Proof this file</div>
<div class="t dl" style="top:124.5px;">Download all</div>
<div class="ft" style="top:139.1px;background:#f6f7f8"></div>
<svg style="left:14.3px;top:143.1px" width="8" height="8" viewBox="0 0 8 8"><ellipse cx="4.200" cy="3.600" rx="3.300" ry="2.800" stroke="#2d2f34" stroke-width=".85" fill="none"/><path d="M1.800 5.600L.9 7.300L3.200 6.300" stroke="#2d2f34" stroke-width=".8" fill="#f6f7f8" stroke-linejoin="round"/></svg><div class="t fn" style="left:23.8px;top:142.3px;">2</div>
<svg style="left:126.2px;top:142.1px" width="10" height="10" viewBox="0 0 10 10"><rect x="1.700" y="1.700" width="6.600" height="6.600" rx="1.200" transform="rotate(45 5 5)" fill="#f7941d"/><path d="M3 5.800L5 3.900L7 5.800" stroke="#fff" stroke-width="1" fill="none"/></svg>
</div>
<div class="card" style="left:677.5px;top:253.5px;height:163.8px;">
<div class="t ct" style="top:8.7px;">Feature Image for blogs</div>
<div class="tag g" style="left:8.7px;width:24.2px">Design</div>
<svg style="left:10.8px;top:40.0px" width="7" height="7" viewBox="0 0 7 7"><rect x=".9" y="1.400" width="5.200" height="5.200" rx=".8" stroke="#6f7177" stroke-width=".75" fill="none"/><path d="M2.300 .5V2M4.700 .5V2M2.200 3.400H4.800M2.200 4.800H4.800" stroke="#6f7177" stroke-width=".7"/></svg>
<div class="t lb" style="top:38.8px;">Due date</div>
<div class="t dv" style="top:38.8px;">Nov 30, 2024</div>
<div class="hr" style="top:50.3px"></div>
<svg style="left:9.6px;top:55.8px" width="8.6" height="6.4" viewBox="0 0 9.500 7"><circle cx="3.300" cy="2.200" r="1.500" stroke="#5f6167" stroke-width=".75" fill="none"/><path d="M.5 6.400V5.800q0-1.600 2.800-1.600t2.800 1.600V6.400z" stroke="#5f6167" stroke-width=".75" fill="none" stroke-linejoin="round"/><circle cx="7" cy="2.600" r="1.100" stroke="#5f6167" stroke-width=".7" fill="none"/><path d="M7.200 4.400q1.700.2 1.700 1.500V6.400H7.400" stroke="#5f6167" stroke-width=".7" fill="none"/></svg>
<div class="t lb" style="top:53.5px;">Assignees</div>
<svg style="left:70.6px;top:53.5px" width="10" height="10" viewBox="0 0 12 12"><defs><clipPath id="c11"><circle cx="6" cy="6" r="6"/></clipPath></defs><g clip-path="url(#c11)"><rect width="12" height="12" fill="#23a08a"/><ellipse cx="6" cy="13.200" rx="5.600" ry="4.600" fill="#b9b2a6"/><ellipse cx="6" cy="4.700" rx="3.300" ry="3.500" fill="#6b5644"/><ellipse cx="6" cy="6" rx="2.500" ry="3.100" fill="#cfa98a"/></g></svg>
<svg style="left:79.2px;top:53.5px" width="10" height="10" viewBox="0 0 12 12"><defs><clipPath id="c12"><circle cx="6" cy="6" r="6"/></clipPath></defs><g clip-path="url(#c12)"><rect width="12" height="12" fill="#2f8de6"/><ellipse cx="6" cy="13.200" rx="5.600" ry="4.600" fill="#e4e8ee"/><ellipse cx="6" cy="4.700" rx="3.300" ry="3.500" fill="#8a7560"/><ellipse cx="6" cy="6" rx="2.500" ry="3.100" fill="#d9b59a"/></g></svg>
<div class="a" style="left:86.7px;top:53.0px;width:11px;height:11px;border-radius:50%;background:#f7f7f9"></div><svg style="left:89.9px;top:56.2px" width="4.600" height="4.600" viewBox="0 0 4.600 4.600"><path d="M2.300 .2V4.400M.2 2.300H4.400" stroke="#2a2b30" stroke-width=".85"/></svg>
<div class="th" style="top:71.7px;"><svg style="left:0;top:0" width="21" height="21" viewBox="0 0 21 21"><rect width="21" height="21" fill="#bfc1bb"/><rect x="0" y="0" width="21" height="9" fill="#cfd1cb"/><rect x="1" y="2.500" width="7" height="9.500" rx=".5" fill="#f4f4f2"/><rect x="2" y="4" width="5" height="6" fill="#dcdedd"/><ellipse cx="17" cy="4.300" rx="2.600" ry="2.300" fill="#1f2a1e"/><rect x="16" y="6" width="2.400" height="2.500" fill="#3a3a38"/><rect x="0" y="13.500" width="9" height="5" fill="#101012"/><rect x="9" y="11.500" width="11" height="1.800" fill="#2c2c2e"/><rect x="0" y="18.500" width="21" height="2.500" fill="#a9aba6"/></svg></div>
<div class="a" style="left:37.5px;top:74.3px;width:8px;height:6.500px;border-radius:1px;background:#8a2bb5;color:#fff;font-size:4.500px;line-height:6.500px;text-align:center;font-weight:bold">V2</div>
<div class="t fnm" style="left:48.6px;top:72.8px;">Proofhub.jpg</div>
<div class="t lk" style="top:81.8px;">3 Comments</div>
<div class="a" style="left:110.2px;top:78.7px;width:10px;height:10px;border-radius:50%;background:#3aa53f;color:#fff;font-size:6px;line-height:10px;text-align:center;font-weight:bold">1</div>
<div class="th" style="top:98.7px;"><svg style="left:0;top:0" width="21" height="21" viewBox="0 0 21 21"><rect width="21" height="21" fill="#fdfdfd"/><rect x="3" y="2" width="15" height=".8" fill="#d5d8dd"/><rect x="6" y="4" width="9" height=".6" fill="#e3e5e9"/><circle cx="3.300" cy="10.500" r="1.500" fill="#4fb36b"/><circle cx="7" cy="10.500" r="1.500" fill="#4a90e2"/><circle cx="10.700" cy="10.500" r="1.500" fill="#e0568e"/><circle cx="14.400" cy="10.500" r="1.500" fill="#8e6bd1"/><circle cx="18" cy="10.500" r="1.500" fill="#58b85c"/><rect x="2" y="10.200" width="17" height=".5" fill="#cfd3d9"/><rect x="8" y="16" width="5" height=".8" fill="#9fd1b0"/><rect x="5" y="18" width="11" height=".5" fill="#e3e5e9"/></svg></div>
<div class="t fnm" style="left:37.5px;top:99.8px;font-size:6.75px;">DESIGN THINKING...</div>
<div class="t lk" style="top:108.8px;">2 Comments</div>
<div class="a" style="left:110.2px;top:105.7px;width:10px;height:10px;border-radius:50%;background:#3aa53f;color:#fff;font-size:6px;line-height:10px;text-align:center;font-weight:bold">1</div>
<div class="t dl" style="top:124.5px;">Download all</div>
<div class="ft" style="top:139.1px;background:#f6f7f8"></div>
<svg style="left:14.3px;top:143.1px" width="8" height="8" viewBox="0 0 8 8"><ellipse cx="4.200" cy="3.600" rx="3.300" ry="2.800" stroke="#2d2f34" stroke-width=".85" fill="none"/><path d="M1.800 5.600L.9 7.300L3.200 6.300" stroke="#2d2f34" stroke-width=".8" fill="#f6f7f8" stroke-linejoin="round"/></svg><div class="t fn" style="left:23.8px;top:142.3px;">1</div>
<svg style="left:126.2px;top:142.1px" width="10" height="10" viewBox="0 0 10 10"><rect x="1.700" y="1.700" width="6.600" height="6.600" rx="1.200" transform="rotate(45 5 5)" fill="#2e8b2e"/><circle cx="3.200" cy="5" r=".6" fill="#fff"/><circle cx="5" cy="5" r=".6" fill="#fff"/><circle cx="6.800" cy="5" r=".6" fill="#fff"/></svg>
</div>
<div class="card done" style="left:839.6px;top:80.3px;height:126.1px;background:#e4fcdf;">
<div class="t ct" style="top:8.0px;text-decoration:line-through;text-decoration-thickness:.55px;text-decoration-color:#4a4c52;">Develop a Blog Post</div>
<div class="tag g" style="left:8.7px;width:24.2px;top:21.100px">Design</div>
<svg style="left:9.6px;top:40.2px" width="8.6" height="6.4" viewBox="0 0 9.500 7"><circle cx="3.300" cy="2.200" r="1.500" stroke="#5f6167" stroke-width=".75" fill="none"/><path d="M.5 6.400V5.800q0-1.600 2.800-1.600t2.800 1.600V6.400z" stroke="#5f6167" stroke-width=".75" fill="none" stroke-linejoin="round"/><circle cx="7" cy="2.600" r="1.100" stroke="#5f6167" stroke-width=".7" fill="none"/><path d="M7.200 4.400q1.700.2 1.700 1.500V6.400H7.400" stroke="#5f6167" stroke-width=".7" fill="none"/></svg>
<div class="t lb" style="top:37.9px;">Assignees</div>
<svg style="left:70.6px;top:37.9px" width="10" height="10" viewBox="0 0 12 12"><defs><clipPath id="c13"><circle cx="6" cy="6" r="6"/></clipPath></defs><g clip-path="url(#c13)"><rect width="12" height="12" fill="#29b8d8"/><ellipse cx="6" cy="13.200" rx="5.600" ry="4.600" fill="#d9d2c8"/><ellipse cx="6" cy="4.700" rx="3.300" ry="3.500" fill="#a88a6e"/><ellipse cx="6" cy="6" rx="2.500" ry="3.100" fill="#d9b092"/></g></svg>
<svg style="left:79.2px;top:37.9px" width="10" height="10" viewBox="0 0 12 12"><defs><clipPath id="c14"><circle cx="6" cy="6" r="6"/></clipPath></defs><g clip-path="url(#c14)"><rect width="12" height="12" fill="#e8207c"/><ellipse cx="6" cy="13.200" rx="5.600" ry="4.600" fill="#3a2a2a"/><ellipse cx="6" cy="4.700" rx="3.300" ry="3.500" fill="#2a1815"/><ellipse cx="6" cy="6" rx="2.500" ry="3.100" fill="#cf9c7c"/></g></svg>
<div class="a" style="left:86.7px;top:37.4px;width:11px;height:11px;border-radius:50%;background:#f7f7f9"></div><svg style="left:89.9px;top:40.6px" width="4.600" height="4.600" viewBox="0 0 4.600 4.600"><path d="M2.300 .2V4.400M.2 2.300H4.400" stroke="#2a2b30" stroke-width=".85"/></svg>
<div class="hr" style="top:49.4px"></div>
<svg style="left:10.8px;top:53.8px" width="7" height="7" viewBox="0 0 7 7"><circle cx="3.500" cy="3.500" r="2.900" stroke="#55575d" stroke-width=".8" fill="none"/><path d="M3.500 1.900V3.600L4.600 4.200" stroke="#55575d" stroke-width=".7" fill="none"/></svg>
<div class="t lb" style="top:52.6px;">Logged time</div>
<div class="t vv" style="top:52.6px;">1m</div>
<div class="th" style="top:70.8px;border-color:transparent;background:rgba(255,255,255,.45);left:10.5px;width:21.5px;height:22.3px;"><svg style="left:0;top:0" width="21" height="21" viewBox="0 0 21 21"><path d="M6 3H12.500L16 6.500V18H6Z" stroke="#2f5fd0" stroke-width="1.300" fill="#fff" stroke-linejoin="round"/><path d="M12.500 3V6.500H16" stroke="#2f5fd0" stroke-width="1" fill="none"/><path d="M7.800 10L9.200 15L11 11L12.800 15L14.200 10" stroke="#2f5fd0" stroke-width="1.200" fill="none" stroke-linejoin="round"/></svg></div>
<div class="t fnm" style="left:37.5px;top:71.9px;">Content Brief - Ma...</div>
<div class="t lk" style="top:80.9px;">Add comment</div>
<div class="ft" style="top:101.4px;background:#d8ecd5"></div>
<svg style="left:14.3px;top:105.4px" width="9" height="8" viewBox="0 0 9 8"><path d="M.3 2H8.700M6.700 .5L8.700 2L6.700 3.500M1.800 .6V6.200H7.200M7.200 4.400V7.600" stroke="#2d2f34" stroke-width=".85" fill="none"/></svg><div class="t fn" style="left:24.8px;top:104.6px;">4</div>
<svg style="left:36.8px;top:105.4px" width="8" height="8" viewBox="0 0 8 8"><ellipse cx="4.200" cy="3.600" rx="3.300" ry="2.800" stroke="#2d2f34" stroke-width=".85" fill="none"/><path d="M1.800 5.600L.9 7.300L3.200 6.300" stroke="#2d2f34" stroke-width=".8" fill="#f6f7f8" stroke-linejoin="round"/></svg><div class="t fn" style="left:46.3px;top:104.6px;">1</div>
<svg style="left:126.2px;top:104.4px" width="10" height="10" viewBox="0 0 10 10"><rect x="1.700" y="1.700" width="6.600" height="6.600" rx="1.200" transform="rotate(45 5 5)" fill="#e0262d"/><path d="M3.200 4.900L5 3.300L6.800 4.900M3.200 6.800L5 5.200L6.800 6.800" stroke="#fff" stroke-width=".9" fill="none"/></svg>
</div>
</div>

<!-- scrollbar -->
<div class="a" style="left:300px;top:476px;width:480px;height:10px;background:radial-gradient(ellipse at 50% 100%,rgba(0,0,0,.035),rgba(0,0,0,0) 70%)"></div>
<div class="a" style="left:183px;top:485.700px;width:811px;height:6px;background:#a8a8a8;border-radius:3px 3px 0 0"></div>
<div class="a" style="left:381px;top:489.700px;width:263px;height:2px;background:#7e7e7e;border-radius:1px 1px 0 0"></div>

</div>
</body>
</html>
